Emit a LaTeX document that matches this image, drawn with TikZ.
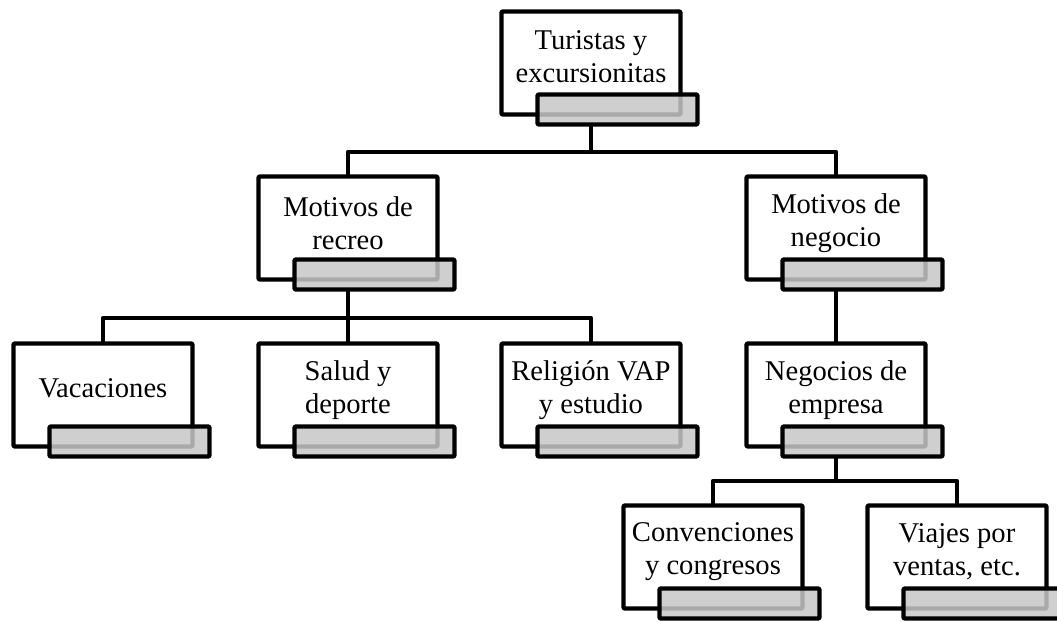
\documentclass[tikz,border=0pt]{standalone}
\usepackage{fontspec}
\setmainfont{Liberation Serif}
\begin{document}
\begin{tikzpicture}[x=1pt,y=-1pt,line width=4.3pt,line join=round,line cap=round,
  box/.style={draw,fill=white,minimum width=179pt,minimum height=103pt,inner sep=0pt,rounded corners=1pt},
  tabbox/.style={draw,fill=black!22,fill opacity=0.85,minimum width=160pt,minimum height=30pt,inner sep=0pt,rounded corners=1pt},
  lbl/.style={align=center,inner sep=0pt,font=\fontsize{28.6}{33}\selectfont},
  conn/.style={draw,line width=4.2pt}]
\useasboundingbox (0,0) rectangle (1057,621);
% named bus coordinates
\coordinate (y1) at (0,152);
\coordinate (y2) at (0,318);
\coordinate (y3) at (0,481);
% boxes
\node[box] (b1) at (591,63) {};
\node[box] (b2) at (348,228) {};
\node[box] (b3) at (836,228) {};
\node[box] (b4) at (103,395) {};
\node[box] (b5) at (348,395) {};
\node[box] (b6) at (591,395) {};
\node[box] (b7) at (836,395) {};
\node[box] (b8) at (713,557) {};
\node[box] (b9) at (957,557) {};
% labels
\node[lbl] (l1) at ([shift={(0,-6)}]b1.center) {Turistas y\\excursionitas};
\node[lbl] (l2) at ([shift={(0,-5)}]b2.center) {Motivos de\\recreo};
\node[lbl] (l3) at ([shift={(0,-5)}]b3.center) {Motivos de\\negocio};
\node[lbl] (l4) at ([shift={(0,-7)}]b4.center) {Vacaciones};
\node[lbl] (l5) at ([shift={(0,-5)}]b5.center) {Salud y\\deporte};
\node[lbl] (l6) at ([shift={(0,-5)}]b6.center) {Religión VAP\\y estudio};
\node[lbl] (l7) at ([shift={(0,-5)}]b7.center) {Negocios de\\empresa};
\node[lbl] (l8) at ([shift={(0,-5)}]b8.center) {Convenciones\\y congresos};
\node[lbl] (l9) at ([shift={(0,-5)}]b9.center) {Viajes por\\ventas, etc.};
% tabs
\foreach \b in {1,...,9}{
  \node[tabbox] (t\b) at ([shift={(26.5,46.5)}]b\b.center) {};
}
% connectors
\path[conn] (b1.center |- t1.south) -- (b1.center |- y1);
\path[conn] (b2.north) -- (b2.north |- y1) -- (b3.north |- y1) -- (b3.north);
\path[conn] (b2.center |- t2.south) -- (b2.center |- y2);
\path[conn] (b4.north) -- (b4.north |- y2) -- (b6.north |- y2) -- (b6.north);
\path[conn] (b5.north |- y2) -- (b5.north);
\path[conn] (b3.center |- t3.south) -- (b7.north);
\path[conn] (b7.center |- t7.south) -- (b7.center |- y3);
\path[conn] (b8.north) -- (b8.north |- y3) -- (b9.north |- y3) -- (b9.north);
\end{tikzpicture}
\end{document}
